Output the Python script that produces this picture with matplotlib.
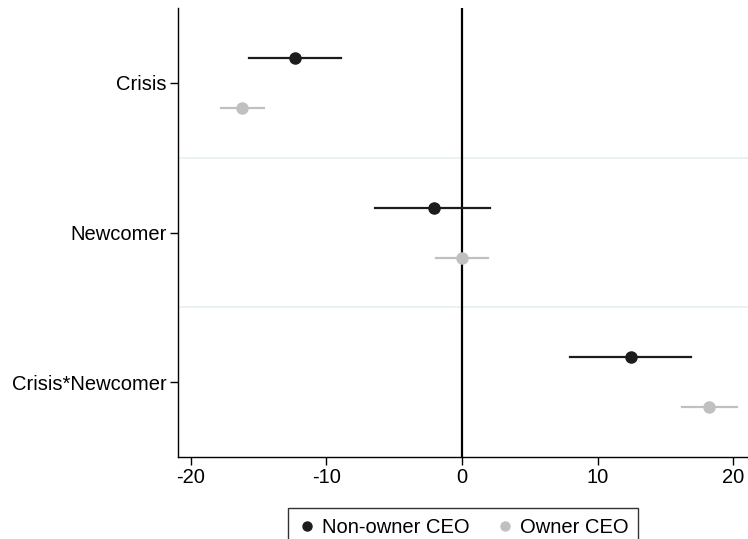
import matplotlib
matplotlib.use("Agg")
import matplotlib.pyplot as plt
from matplotlib.lines import Line2D

plt.rcParams['font.family'] = ['Liberation Sans', 'DejaVu Sans']

# coefficient estimates and confidence intervals
terms = ["Crisis", "Newcomer", "Crisis*Newcomer"]
nonowner_coef = [-12.3, -2.1, 12.5]
nonowner_lo = [-15.7, -6.4, 8.0]
nonowner_hi = [-8.9, 2.1, 16.9]
owner_coef = [-16.2, 0.0, 18.25]
owner_lo = [-17.8, -1.9, 16.2]
owner_hi = [-14.6, 1.95, 20.3]
xticks = [-20, -10, 0, 10, 20]

dark = "#1c1c1c"
light = "#c0c0c0"

fig = plt.figure(figsize=(7.48, 5.39), dpi=100)
ax = fig.add_axes([0.238, 0.152, 0.762, 0.833])

pos = list(range(len(terms)))
off = 1 / 6

# separators between terms
for i in range(len(terms) - 1):
    ax.axhline(i + 0.5, color="#e8f0f0", lw=1.3, zorder=0)

ax.axvline(0, color="black", lw=1.6, zorder=1)

for i in pos:
    ax.plot([nonowner_lo[i], nonowner_hi[i]], [i - off, i - off], color=dark, lw=1.6, zorder=2)
    ax.plot([owner_lo[i], owner_hi[i]], [i + off, i + off], color=light, lw=1.6, zorder=2)
ax.plot(nonowner_coef, [p - off for p in pos], "o", color=dark, ms=8, zorder=3)
ax.plot(owner_coef, [p + off for p in pos], "o", color=light, ms=8, zorder=3)

ax.set_xlim(-20.95, 21.1)
ax.set_ylim(2.5, -0.5)
ax.set_yticks(pos)
ax.set_yticklabels(terms)
ax.set_xticks(xticks)
ax.set_xticklabels([str(t) for t in xticks])
ax.tick_params(axis="both", labelsize=14.5, length=6, width=1, colors="black", pad=2)
ax.spines["top"].set_visible(False)
ax.spines["right"].set_visible(False)
for s in ["left", "bottom"]:
    ax.spines[s].set_linewidth(1)

handles = [
    Line2D([], [], marker="o", ls="none", color=dark, ms=6.5),
    Line2D([], [], marker="o", ls="none", color=light, ms=6.5),
]
leg = fig.legend(handles, ["Non-owner CEO", "Owner CEO"], ncol=2, loc="upper center",
                 bbox_to_anchor=(0.619, 0.0575), borderaxespad=0, fontsize=14.5,
                 frameon=True, fancybox=False, edgecolor="black", handletextpad=0.3,
                 columnspacing=1.3, borderpad=0.5, handlelength=0.9)
leg.get_frame().set_linewidth(1)

fig.savefig("out.png", dpi=100)
